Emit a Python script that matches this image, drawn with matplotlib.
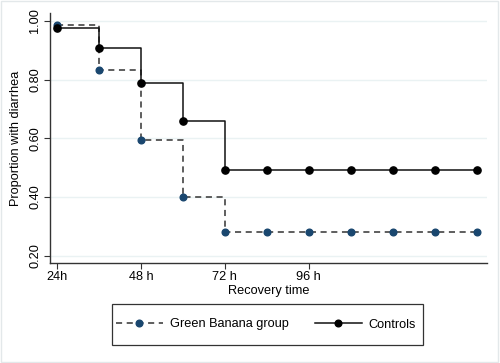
import matplotlib
matplotlib.use("Agg")
import matplotlib.pyplot as plt
from matplotlib.patches import Rectangle

plt.rcParams['font.family'] = ['Liberation Sans', 'DejaVu Sans']

# recovery time in hours
hours = [24, 36, 48, 60, 72, 84, 96, 108, 120, 132, 144]
banana = [0.985, 0.834, 0.595, 0.40, 0.279, 0.279, 0.279, 0.279, 0.279, 0.279, 0.279]
controls = [0.975, 0.907, 0.787, 0.658, 0.491, 0.491, 0.491, 0.491, 0.491, 0.491, 0.491]

xticks = [24, 48, 72, 96]
xtick_labels = ["24h", "48 h", "72 h", "96 h"]
yticks = [0.20, 0.40, 0.60, 0.80, 1.00]

navy = "#1a476f"
axis_col = "#333333"
fs = 9.2
W, H = 500, 363

fig = plt.figure(figsize=(5.0, 3.63), dpi=100)
fig.patches.append(Rectangle((0.002, 0.002), 0.994, 0.994, transform=fig.transFigure,
                             fill=False, edgecolor="#e3e8ea", linewidth=1.0))
ax = fig.add_axes([0.099, 0.2755, 0.875, 0.6885])

for y in yticks:
    ax.axhline(y, color="#eaf2f3", linewidth=1.0, zorder=0)

ax.plot(hours, banana, drawstyle="steps-post", color="#333333", linestyle=(0, (4, 3)),
        linewidth=1.1, zorder=2)
ax.plot(hours, banana, linestyle="none", marker="o", markersize=4.8, color=navy, zorder=3)
ax.plot(hours, controls, drawstyle="steps-post", color="#111111", linewidth=1.1, zorder=2)
ax.plot(hours, controls, linestyle="none", marker="o", markersize=5.2, color="black", zorder=3)

ax.set_xlim(21.9, 146.9)
ax.set_ylim(0.175, 1.027)

ax.set_xticks(xticks)
ax.set_xticklabels(xtick_labels, fontsize=fs)
ax.set_yticks(yticks)
ax.set_yticklabels([f"{v:.2f}" for v in yticks], fontsize=fs, rotation=90, va="center")
ax.tick_params(direction="out", length=4, width=0.8, color=axis_col, pad=2)

for side in ["top", "right"]:
    ax.spines[side].set_visible(False)
for side in ["left", "bottom"]:
    ax.spines[side].set_color(axis_col)
    ax.spines[side].set_linewidth(1.0)

ax.set_xlabel("Recovery time", fontsize=fs, labelpad=1)
ax.set_ylabel("Proportion with diarrhea", fontsize=fs, labelpad=5)

# legend box (drawn separately so its padding can differ by direction)
fig.patches.append(Rectangle((112 / W, 1 - 345 / H), (423 - 112) / W, (345 - 304) / H,
                             transform=fig.transFigure, fill=False,
                             edgecolor="#333333", linewidth=0.9))
h1, = ax.plot([], [], color="#333333", linestyle=(0, (4, 3)), linewidth=1.1,
              marker="o", markersize=4.8, markerfacecolor=navy, markeredgecolor=navy)
h2, = ax.plot([], [], color="#111111", linewidth=1.1, marker="o", markersize=4.8,
              markerfacecolor="black", markeredgecolor="black")
fig.legend([h1, h2], ["Green Banana group", "Controls"], loc="center",
           bbox_to_anchor=(266 / W, 1 - 324.5 / H), ncol=2, fontsize=fs, frameon=False,
           handlelength=3.7, columnspacing=2.0, borderpad=0,
           handletextpad=0.55, borderaxespad=0)

fig.savefig("out.png", dpi=100)
